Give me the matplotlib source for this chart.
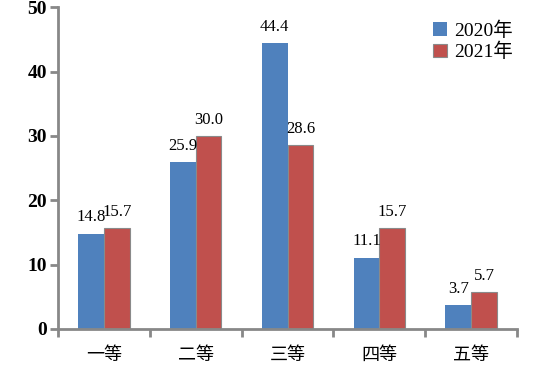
import numpy as np
import matplotlib.pyplot as plt

categories = ['一等', '二等', '三等', '四等', '五等']
series_names = ['2020年', '2021年']
values_2020 = [14.8, 25.9, 44.4, 11.1, 3.7]
values_2021 = [15.7, 30.0, 28.6, 15.7, 5.7]
colors = ['#4F81BD', '#C0504D']

plt.rcParams['font.family'] = ['Liberation Serif', 'Noto Sans CJK SC']

fig = plt.figure(figsize=(5.54, 3.75), dpi=100)
ax = fig.add_axes([0.1047, 0.1227, 0.8286, 0.858])

x = np.arange(len(categories))
w = 0.28
b1 = ax.bar(x - w / 2, values_2020, w, color=colors[0], label=series_names[0])
b2 = ax.bar(x + w / 2, values_2021, w, color=colors[1], label=series_names[1],
            edgecolor='#8a8a8a', linewidth=0.8)

for bars, vals in [(b1, values_2020), (b2, values_2021)]:
    for bar, v in zip(bars, vals):
        ax.annotate(f'{v:.1f}', (bar.get_x() + bar.get_width() / 2, v),
                    xytext=(0, 6), textcoords='offset points',
                    ha='center', va='bottom', fontsize=12)

ax.set_xlim(-0.5, len(categories) - 0.5)
ax.set_ylim(0, 50)
ax.set_yticks(range(0, 51, 10))
for lab in ax.get_yticklabels():
    lab.set_fontweight('bold')
    lab.set_fontsize(14)

ax.set_xticks(x)
ax.set_xticklabels(categories, fontsize=13, fontweight='medium', family=['Noto Sans CJK SC'])
ax.set_xticks(np.arange(-0.5, len(categories)), minor=True)
ax.tick_params(axis='x', which='major', length=0, pad=12)
ax.tick_params(axis='x', which='minor', length=6, width=2, color='#888888', direction='out')
ax.tick_params(axis='y', length=6, width=2, color='#888888', direction='out', pad=2)

for s in ['top', 'right']:
    ax.spines[s].set_visible(False)
for s in ['left', 'bottom']:
    ax.spines[s].set_color('#888888')
    ax.spines[s].set_linewidth(2)

ax.legend(loc='upper right', bbox_to_anchor=(1.03, 1.01), frameon=False,
          prop={'family': ['Liberation Serif', 'Noto Sans CJK SC'], 'size': 14},
          handlelength=0.7, handleheight=0.7, handletextpad=0.4, labelspacing=0.15)

fig.savefig('out.png', dpi=100)
